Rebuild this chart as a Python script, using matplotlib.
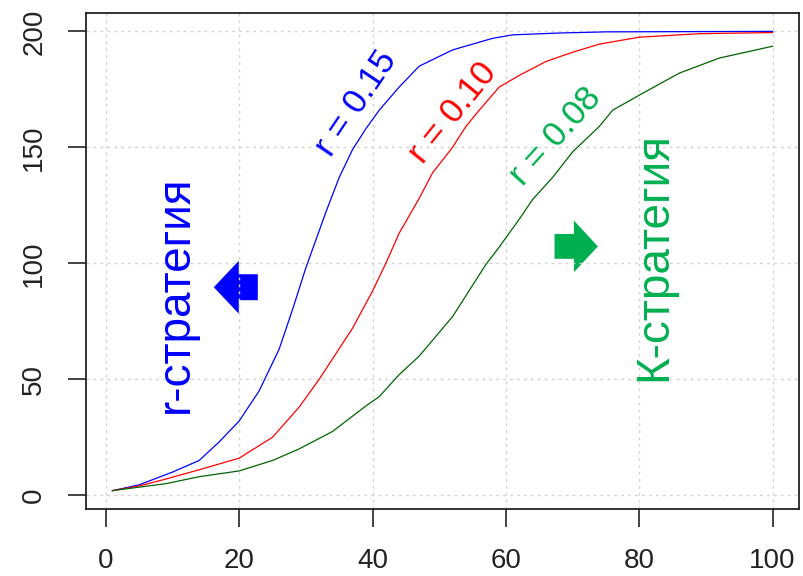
import matplotlib
matplotlib.use("Agg")
import matplotlib.pyplot as plt
from matplotlib.patches import FancyArrow

plt.rcParams['font.family'] = ['Liberation Sans', 'DejaVu Sans']

# values (time, population)
x_blue = [1, 5, 10, 14, 17, 20, 23, 26, 28, 30, 33, 35, 37, 39, 41, 44, 47, 52, 58, 61, 68, 75, 100]
y_blue = [2, 4.5, 10, 15, 23, 32, 45, 63, 80, 98, 122, 137, 149, 158, 166, 176, 185, 192, 197, 198.5, 199.3, 199.8, 200]

x_red = [1, 5, 9, 14, 20, 25, 29, 32, 37, 40, 42, 44, 47, 49, 52, 54, 56, 59, 62, 66, 70, 74, 80, 89, 100]
y_red = [2, 4, 7, 11, 16, 25, 38, 50, 72, 88, 100, 113, 128, 139, 150, 159, 166, 176, 181, 187, 191, 194.5, 197.5, 199, 199.5]

x_green = [1, 5, 9, 14, 20, 25, 29, 34, 39, 41, 44, 47, 52, 57, 59, 62, 64, 67, 70, 74, 76, 80, 86, 92, 100]
y_green = [2, 3.5, 5, 8, 10.5, 15, 20, 27.5, 38.5, 42.5, 52, 60, 77, 99.5, 107, 119, 127.5, 137, 148, 159, 166, 172.5, 182, 188.5, 193.6]

xticks = [0, 20, 40, 60, 80, 100]
yticks = [0, 50, 100, 150, 200]

fig = plt.figure(figsize=(8.04, 5.76), dpi=100)
ax = fig.add_axes([0.107, 0.1163, 0.8868, 0.8611])

ax.plot(x_blue, y_blue, color='#0000FF', lw=0.9)
ax.plot(x_red, y_red, color='#FF0000', lw=0.9)
ax.plot(x_green, y_green, color='#006400', lw=0.9)

ax.set_xlim(-2.96, 103.96)
ax.set_ylim(-5.92, 207.92)
ax.set_xticks(xticks)
ax.set_yticks(yticks)
ax.set_yticklabels([str(v) for v in yticks], rotation=90, va='center')
ax.tick_params(direction='out', length=13, width=1.2, pad=15, labelsize=20, colors='#222222')
ax.grid(True, color='#D3D3D3', linestyle=(0, (2, 3)), lw=1)
for s in ax.spines.values():
    s.set_color('#222222')
    s.set_linewidth(1.3)

# curve labels
ax.text(37.6, 169, 'r = 0.15', color='#0000FF', fontsize=25, rotation=56, ha='center', va='center')
ax.text(52, 165, 'r = 0.10', color='#FF0000', fontsize=25, rotation=51, ha='center', va='center')
ax.text(67.5, 154.6, 'r = 0.08', color='#00B050', fontsize=25, rotation=48, ha='center', va='center')

# strategy labels
ax.text(10.5, 86.7, 'r-стратегия', color='#0000FF', fontsize=33, rotation=90, ha='center', va='center')
ax.text(82.2, 103, 'К-стратегия', color='#00B050', fontsize=33, rotation=90, ha='center', va='center')

ax.add_patch(FancyArrow(22.8, 89.7, -6.6, 0, width=11.2, head_width=22.8, head_length=3.75,
                        length_includes_head=True, color='#0000FF', lw=0))
ax.add_patch(FancyArrow(67.3, 107.3, 6.5, 0, width=10.7, head_width=22.3, head_length=3.6,
                        length_includes_head=True, color='#00B050', lw=0))

fig.savefig('out.png', dpi=100)
